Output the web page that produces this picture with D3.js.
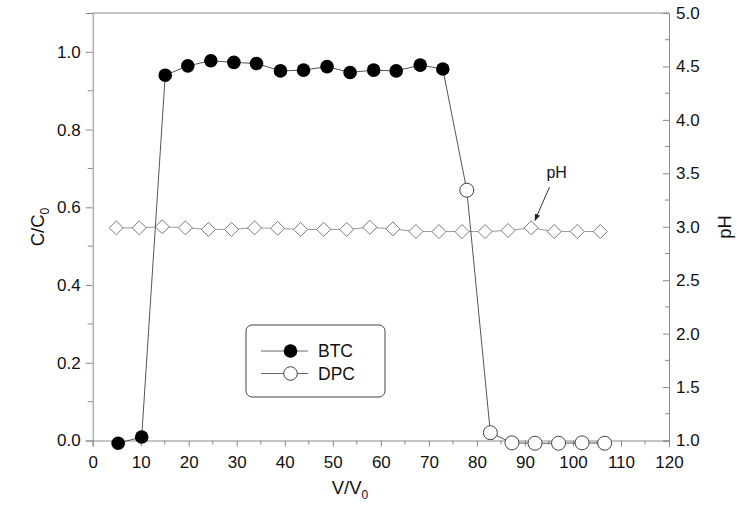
<!DOCTYPE html>
<html><head><meta charset="utf-8">
<script src="https://cdn.jsdelivr.net/npm/d3@7"></script>
<style>body{margin:0;background:#fff}svg{display:block}text{font-family:"Liberation Sans",Arial,sans-serif;fill:#111}</style>
</head><body><svg id="c" width="741" height="512"></svg>
<script>
// ---- data ----
const btcX = [5.3,10.2,15.1,19.8,24.6,29.4,34.1,39.1,43.9,48.8,53.6,58.5,63.2,68.2,72.9,77.9];
const btcY = [-0.007,0.009,0.940,0.964,0.977,0.973,0.970,0.951,0.953,0.962,0.947,0.953,0.951,0.966,0.956,0.644];
const dpcX = [77.9,82.8,87.3,92.1,97.0,101.9,106.6];
const dpcY = [0.644,0.020,-0.006,-0.007,-0.007,-0.006,-0.007];
const phX = [4.9,9.7,14.5,19.3,24.1,28.9,33.7,38.5,43.3,48.1,52.9,57.7,62.5,67.3,72.1,76.9,81.7,86.5,91.3,96.1,100.9,105.7];
const phY = [2.99,2.99,3.00,2.99,2.975,2.975,2.99,2.985,2.975,2.975,2.975,2.995,2.98,2.955,2.955,2.955,2.955,2.965,2.99,2.955,2.955,2.955];
const xTicks = [0,10,20,30,40,50,60,70,80,90,100,110,120];
const yLTicks = [0.0,0.2,0.4,0.6,0.8,1.0];
const yRTicks = [1.0,1.5,2.0,2.5,3.0,3.5,4.0,4.5,5.0];
const legendItems = ["BTC","DPC"];
const phNote = {label:"pH", tx:96.6, ty:3.46, x1:95.1, y1:3.37, x2:92.1, y2:3.06};

const svg = d3.select("#c");
const L=92.7, R=669, T=13, B=440.5;
const x = d3.scaleLinear([0,120],[L,R]);
const yL = d3.scaleLinear([0,1.1],[B,T]);
const yR = d3.scaleLinear([1,5],[B,T]);
const axCol = "#8a8a8a";

// frame top
svg.append("line").attr("x1",L).attr("x2",R).attr("y1",T).attr("y2",T).attr("stroke",axCol);

// bottom axis
const gx = svg.append("g").attr("transform",`translate(0,${B})`)
  .call(d3.axisBottom(x).tickValues(xTicks).tickFormat(d3.format("d")).tickSize(6).tickPadding(9));
gx.append("g").selectAll("line").data(d3.range(5,120,10)).join("line")
  .attr("x1",d=>x(d)).attr("x2",d=>x(d)).attr("y1",0).attr("y2",4).attr("stroke",axCol);
// left axis
const gl = svg.append("g").attr("transform",`translate(${L},0)`)
  .call(d3.axisLeft(yL).tickValues(yLTicks).tickFormat(d3.format(".1f")).tickSize(7).tickPadding(5));
gl.append("g").selectAll("line").data([0.1,0.3,0.5,0.7,0.9]).join("line")
  .attr("y1",d=>yL(d)).attr("y2",d=>yL(d)).attr("x1",0).attr("x2",-5).attr("stroke",axCol);
// right axis (ticks inward)
const gr = svg.append("g").attr("transform",`translate(${R},0)`)
  .call(d3.axisRight(yR).tickValues(yRTicks).tickFormat(d3.format(".1f")).tickSize(-6).tickPadding(14));
gr.append("g").selectAll("line").data(d3.range(1.25,5,0.5)).join("line")
  .attr("y1",d=>yR(d)).attr("y2",d=>yR(d)).attr("x1",0).attr("x2",-4).attr("stroke",axCol);
[gx,gl,gr].forEach(g=>{
  g.select(".domain").attr("stroke",axCol);
  g.selectAll(".tick line").attr("stroke",axCol);
  g.selectAll("text").attr("font-size",17).attr("fill","#111").attr("font-family","Liberation Sans, Arial, sans-serif");
});
gr.selectAll(".tick text").attr("dx",-7);

// titles
function titleSub(parent, main, sub, tr){
  const t = parent.append("text").attr("transform",tr).attr("text-anchor","middle").attr("font-size",18.5);
  t.append("tspan").text(main);
  t.append("tspan").text(sub).attr("font-size",12).attr("dy",5);
  return t;
}
titleSub(svg,"V/V","0",`translate(350,494)`);
titleSub(svg,"C/C","0",`translate(44,227) rotate(-90)`);
svg.append("text").attr("transform","translate(731,227) rotate(-90)").attr("text-anchor","middle").attr("font-size",18.5).text("pH");

// pH series
const phData = phX.map((v,i)=>[v,phY[i]]);
svg.append("path").datum(phData).attr("fill","none").attr("stroke","#999").attr("stroke-width",1)
  .attr("d",d3.line().x(d=>x(d[0])).y(d=>yR(d[1])));
const dia = 7;
svg.append("g").selectAll("path").data(phData).join("path")
  .attr("d",d=>{const cx=x(d[0]),cy=yR(d[1]);return `M${cx},${cy-dia}L${cx+dia},${cy}L${cx},${cy+dia}L${cx-dia},${cy}Z`;})
  .attr("fill","#fff").attr("stroke","#7a7a7a").attr("stroke-width",1);

// BTC series
const btcData = btcX.map((v,i)=>[v,btcY[i]]);
svg.append("path").datum(btcData).attr("fill","none").attr("stroke","#555").attr("stroke-width",1)
  .attr("d",d3.line().x(d=>x(d[0])).y(d=>yL(d[1])));
svg.append("g").selectAll("circle").data(btcData).join("circle")
  .attr("cx",d=>x(d[0])).attr("cy",d=>yL(d[1])).attr("r",6.8).attr("fill","#000");

// DPC series
const dpcData = dpcX.map((v,i)=>[v,dpcY[i]]);
svg.append("path").datum(dpcData).attr("fill","none").attr("stroke","#555").attr("stroke-width",1)
  .attr("d",d3.line().x(d=>x(d[0])).y(d=>yL(d[1])));
svg.append("g").selectAll("circle").data(dpcData).join("circle")
  .attr("cx",d=>x(d[0])).attr("cy",d=>yL(d[1])).attr("r",7).attr("fill","#fff").attr("stroke","#444").attr("stroke-width",1);

// pH annotation
svg.append("defs").append("marker").attr("id","ah").attr("viewBox","0 0 10 10").attr("refX",9).attr("refY",5)
  .attr("markerWidth",7).attr("markerHeight",7).attr("orient","auto")
  .append("path").attr("d","M0,1L10,5L0,9Z").attr("fill","#222");
svg.append("line").attr("x1",x(phNote.x1)).attr("y1",yR(phNote.y1)).attr("x2",x(phNote.x2)).attr("y2",yR(phNote.y2))
  .attr("stroke","#333").attr("stroke-width",1).attr("marker-end","url(#ah)");
svg.append("text").attr("x",x(phNote.tx)).attr("y",yR(phNote.ty)).attr("text-anchor","middle").attr("font-size",16).text(phNote.label);

// legend
const lg = svg.append("g").attr("transform","translate(246,325)");
lg.append("rect").attr("width",139).attr("height",72).attr("rx",6).attr("fill","#fff").attr("stroke","#444").attr("stroke-width",1);
legendItems.forEach((name,i)=>{
  const yy = 26 + i*22.5;
  lg.append("line").attr("x1",15).attr("x2",62).attr("y1",yy).attr("y2",yy).attr("stroke","#666");
  const c = lg.append("circle").attr("cx",44.5).attr("cy",yy).attr("r",6.8);
  if(i===0) c.attr("fill","#000"); else c.attr("fill","#fff").attr("stroke","#444");
  lg.append("text").attr("x",72).attr("y",yy+6).attr("font-size",17.5).text(name);
});
</script></body></html>
